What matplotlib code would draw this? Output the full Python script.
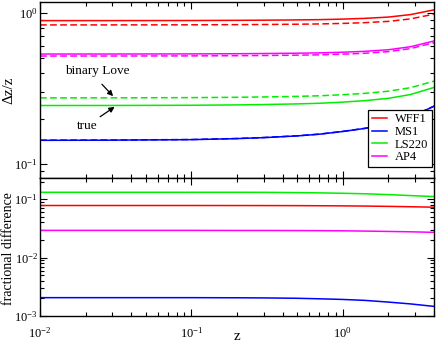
import matplotlib
matplotlib.use("Agg")
import matplotlib.pyplot as plt
from matplotlib.ticker import LogLocator, NullFormatter

plt.rcParams['font.family'] = ['Liberation Serif', 'DejaVu Serif']
plt.rcParams['mathtext.fontset'] = 'custom'
plt.rcParams['mathtext.rm'] = 'Liberation Serif'
plt.rcParams['mathtext.it'] = 'Liberation Serif:italic'
plt.rcParams['mathtext.bf'] = 'Liberation Serif:bold'

# redshift grid
z = [0.01, 0.03, 0.1, 0.2, 0.3, 0.5, 0.7, 1.0, 1.4, 2.0, 2.8, 4.0]

eos_names = ["WFF1", "MS1", "LS220", "AP4"]
colors = {"WFF1": "#ff0000", "MS1": "#0000ff", "LS220": "#00ee00", "AP4": "#ff00ff"}

# Delta z / z, true
wff1_true = [0.889, 0.889, 0.8903, 0.8926, 0.8947, 0.8984, 0.9021, 0.9095, 0.9200, 0.9382, 0.9743, 1.047]
ms1_true = [0.1437, 0.1441, 0.1452, 0.1475, 0.1497, 0.1537, 0.1577, 0.1644, 0.1723, 0.1843, 0.2045, 0.2415]
ls220_true = [0.2441, 0.2443, 0.2451, 0.2464, 0.2478, 0.2502, 0.2526, 0.2571, 0.2629, 0.2724, 0.2886, 0.3214]
ap4_true = [0.5344, 0.5346, 0.5355, 0.5371, 0.5387, 0.5413, 0.5440, 0.5495, 0.5571, 0.5706, 0.5972, 0.6519]

# Delta z / z, binary Love
wff1_bl = [0.8325, 0.8327, 0.8339, 0.8360, 0.8380, 0.8414, 0.8450, 0.8518, 0.8617, 0.8787, 0.9125, 0.9804]
ms1_bl = [0.1440, 0.1444, 0.1455, 0.1478, 0.1500, 0.1540, 0.1580, 0.1647, 0.1726, 0.1846, 0.2048, 0.2418]
ls220_bl = [0.2742, 0.2744, 0.2753, 0.2767, 0.2781, 0.2806, 0.2831, 0.2878, 0.2937, 0.3036, 0.3203, 0.3538]
ap4_bl = [0.5185, 0.5187, 0.5196, 0.5211, 0.5227, 0.5254, 0.5280, 0.5334, 0.5410, 0.5544, 0.5808, 0.6351]

# fractional difference
wff1_fd = [0.0778, 0.0778, 0.0778, 0.0777, 0.0776, 0.0774, 0.0771, 0.0767, 0.0761, 0.0752, 0.0741, 0.0728]
ms1_fd = [0.00206, 0.00206, 0.00206, 0.00205, 0.00204, 0.00201, 0.00197, 0.00192, 0.00185, 0.00173, 0.00161, 0.00146]
ls220_fd = [0.131, 0.131, 0.131, 0.131, 0.1308, 0.1295, 0.128, 0.126, 0.1235, 0.1195, 0.115, 0.1107]
ap4_fd = [0.0292, 0.0292, 0.0292, 0.0291, 0.0291, 0.0290, 0.0289, 0.0287, 0.0284, 0.0280, 0.0276, 0.0270]

true_vals = {"WFF1": wff1_true, "MS1": ms1_true, "LS220": ls220_true, "AP4": ap4_true}
bl_vals = {"WFF1": wff1_bl, "MS1": ms1_bl, "LS220": ls220_bl, "AP4": ap4_bl}
fd_vals = {"WFF1": wff1_fd, "MS1": ms1_fd, "LS220": ls220_fd, "AP4": ap4_fd}

fig = plt.figure(figsize=(4.36, 3.47), dpi=100)
L = 40 / 436
W = (434 - 40) / 436
ax1 = fig.add_axes([L, 1 - 178 / 347, W, 176 / 347])
ax2 = fig.add_axes([L, 1 - 316 / 347, W, 138 / 347])

lw = 1.1
for name in eos_names:
    ax1.plot(z, bl_vals[name], color=colors[name], lw=lw, ls=(0, (4.4, 2.2)))
for name in eos_names:
    ax1.plot(z, true_vals[name], color=colors[name], lw=lw, label=name)
for name in eos_names:
    ax2.plot(z, fd_vals[name], color=colors[name], lw=lw)

for ax in (ax1, ax2):
    ax.set_xscale('log')
    ax.set_yscale('log')
    ax.set_xlim(0.01, 4.0)
    ax.tick_params(which='both', direction='in', top=True, right=True, labelsize=9, width=0.8, color='black')
    ax.tick_params(which='major', length=5)
    ax.tick_params(which='minor', length=3)
    ax.tick_params(axis='x', which='both', pad=7)
    ax.tick_params(axis='y', which='both', pad=1.5)
    ax.xaxis.set_minor_locator(LogLocator(base=10, subs=range(2, 10), numticks=20))
    ax.yaxis.set_minor_locator(LogLocator(base=10, subs=range(2, 10), numticks=20))
    ax.yaxis.set_minor_formatter(NullFormatter())
    ax.xaxis.set_minor_formatter(NullFormatter())
    for s in ax.spines.values():
        s.set_linewidth(1.0)

ax1.set_ylim(0.081, 1.18)
ax2.set_ylim(0.001, 0.23)
ax1.tick_params(labelbottom=False)

ax1.set_ylabel('Δz/z', fontsize=11)
ax1.yaxis.set_label_coords(-0.062, 0.5)
ax2.set_ylabel('fractional difference', fontsize=10)
ax2.yaxis.set_label_coords(-0.0625, 0.49)
ax2.set_xlabel('z', fontsize=11)
ax2.xaxis.set_label_coords(0.5, -0.1)

ax1.text(0.0238, 0.412, 'binary Love', fontsize=9.5, ha='center', va='center')
ax1.annotate('', xy=(0.0313, 0.273), xytext=(0.0249, 0.348),
             arrowprops=dict(arrowstyle='-|>', color='black', lw=0.9, mutation_scale=8))
ax1.text(0.0204, 0.178, 'true', fontsize=9.5, ha='center', va='center')
ax1.annotate('', xy=(0.0322, 0.245), xytext=(0.0241, 0.201),
             arrowprops=dict(arrowstyle='-|>', color='black', lw=0.9, mutation_scale=8))

leg = ax1.legend(loc='lower right', bbox_to_anchor=((432 - 40) / 394, (178 - 167) / 176),
                 fontsize=9, handlelength=1.25, handletextpad=0.6,
                 fancybox=False, edgecolor='black', framealpha=1, borderpad=0.3,
                 labelspacing=0.05, borderaxespad=0.0)
leg.get_frame().set_linewidth(0.9)

fig.savefig('out.png', dpi=100)
